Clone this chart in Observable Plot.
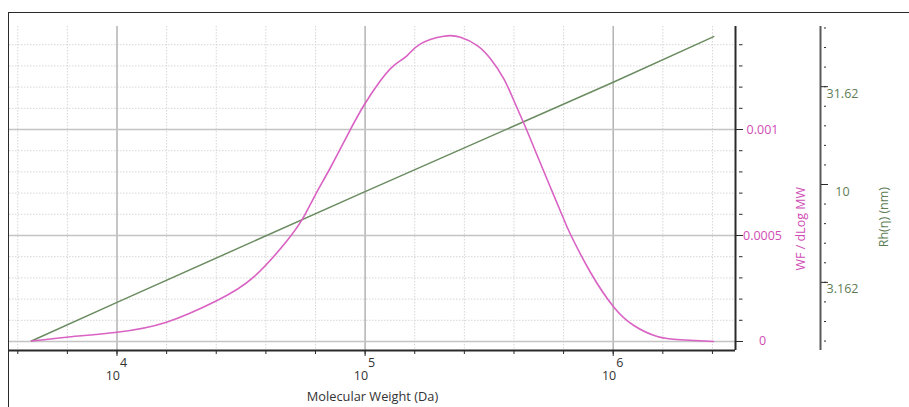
<!DOCTYPE html>
<html>
<head>
<meta charset="utf-8">
<script src="https://cdn.jsdelivr.net/npm/d3@7"></script>
<script src="https://cdn.jsdelivr.net/npm/@observablehq/plot@0.6"></script>
<style>
  html, body { margin: 0; padding: 0; background: #fff; }
  #wrap { position: relative; width: 909px; height: 407px; overflow: hidden; }
  #panel { position: absolute; left: 8px; top: 12px; right: 0; bottom: 0;
           border-top: 1.6px solid #2a2a2a; border-left: 1.6px solid #2a2a2a; pointer-events: none; }
  #wrap svg { position: absolute; left: 0; top: 0; }
</style>
</head>
<body>
<div id="wrap"><div id="panel"></div></div>
<script>
// Weight-fraction distribution (WF / dLog MW) against molecular weight (Da)
const mw = [4520, 6260, 10000, 15830, 25340, 35500, 48530, 56460, 63110, 72530, 84720,
            98810, 115400, 130500, 147800, 167200, 207600, 242400, 283100, 320200, 362300,
            397600, 443100, 493900, 558800, 630500, 672900, 810200, 1006000, 1211000, 1505000,
            1867000, 2537000];
const wf = [0.0000024, 0.0000203, 0.0000439, 0.000091, 0.0001934, 0.0003033, 0.0004764,
            0.0005863, 0.0006934, 0.0008208, 0.0009717, 0.0011132, 0.0012311, 0.0013019, 0.001349,
            0.0014042, 0.0014401, 0.0014354, 0.0013962, 0.0013335, 0.0012392, 0.0011368, 0.0010108,
            0.0008774, 0.0007264, 0.0005802, 0.0005047, 0.0003255, 0.0001618, 0.0000755, 0.0000236,
            0.000008, 0];

// Hydrodynamic radius Rh(η) in nm against molecular weight
const rhMW = [4520, 10000, 98900, 1000000, 2541000];
const rh   = [1.586, 2.50, 9.14, 33.3, 57.0];

// Axis ticks and labels
const decades   = [1e4, 1e5, 1e6];
const xStepExp  = [3.6, 3.8, 4.0, 4.2, 4.4, 4.6, 4.8, 5.0, 5.2, 5.4, 5.6, 5.8, 6.0, 6.2, 6.4];
const wfMajor   = [0, 0.0005, 0.001];
const wfMinor   = [0.0001, 0.0002, 0.0003, 0.0004, 0.0006, 0.0007, 0.0008, 0.0009,
                   0.0011, 0.0012, 0.0013, 0.0014];
const rhMajor   = [3.162, 10, 31.62];
const rhStepExp = [0.2, 0.3, 0.4, 0.5, 0.6, 0.7, 0.8, 0.9, 1.0, 1.1, 1.2, 1.3, 1.4, 1.5, 1.6, 1.7, 1.8];

const xDomain  = [3687, 3111000];
const yDomain  = [-0.0000425, 0.001486];
const rhDomain = [1.418, 64.2];

const pink = "#d962c3", pinkText = "#cf4db5";
const green = "#6b8c61", greenText = "#5e7d55";
const ink = "#2a2a2a";

// Rh shares the plot's vertical extent on its own log scale
const rhToY = d3.scaleLog().domain(rhDomain).range(yDomain);

const wfData = mw.map((m, i) => ({mw: m, wf: wf[i]}));
const rhData = rhMW.map((m, i) => ({mw: m, rh: rh[i]}));

const xSteps = xStepExp.map(e => 10 ** e);
const xMinor = xSteps.filter(v => !decades.some(d => Math.abs(d - v) / d < 1e-6));
const rhSteps = rhStepExp.map(e => rhToY(10 ** e));
const rhMajorY = rhMajor.map(d => rhToY(d));

const font = "'Segoe UI', 'Open Sans', sans-serif";

const chart = Plot.plot({
  width: 909,
  height: 407,
  marginTop: 26,
  marginBottom: 57,
  marginLeft: 9,
  marginRight: 174,
  style: {fontFamily: font, fontSize: "12.5px", background: "transparent", overflow: "visible"},
  x: {type: "log", domain: xDomain, label: null},
  y: {domain: yDomain, label: null},
  marks: [
    // grid
    Plot.ruleX(xMinor, {stroke: "#d6d6d6", strokeDasharray: "1.5,1.5"}),
    Plot.ruleY(wfMinor, {stroke: "#d6d6d6", strokeDasharray: "1.5,1.5"}),
    Plot.ruleX(decades, {stroke: "#b3b3b3", strokeWidth: 1.5}),
    Plot.ruleY(wfMajor, {stroke: "#c4c4c4", strokeWidth: 1.5}),

    // series
    Plot.line(rhData, {x: "mw", y: d => rhToY(d.rh), stroke: green, strokeWidth: 1.5}),
    Plot.line(wfData, {x: "mw", y: "wf", stroke: pink, strokeWidth: 1.6, curve: "natural"}),

    // axis lines
    Plot.ruleY([yDomain[0]], {stroke: ink, strokeWidth: 2}),
    Plot.ruleX([xDomain[1]], {stroke: ink, strokeWidth: 2}),
    Plot.ruleX([xDomain[1]], {stroke: "#5a5a5a", strokeWidth: 2, dx: 85}),

    // x ticks and labels
    Plot.axisX(xSteps, {tickSize: 4, fill: "none", stroke: ink, label: null}),
    Plot.axisX(decades, {tickSize: 6, fill: "none", stroke: ink, label: null}),
    Plot.text(decades, {x: d => d, text: () => "10", frameAnchor: "bottom", dy: 29, dx: 3,
                        textAnchor: "end", fill: "#333"}),
    Plot.text(decades, {x: d => d, text: d => String(Math.round(Math.log10(d))), frameAnchor: "bottom",
                        dy: 16, dx: 3, textAnchor: "start", fill: "#333"}),
    Plot.text(["Molecular Weight (Da)"], {text: d => d, frameAnchor: "bottom", dy: 50, fill: "#333",
                                          fontSize: 12.8}),

    // WF / dLog MW axis
    Plot.axisY(wfMinor, {anchor: "right", tickSize: 3.5, dx: 3, fill: "none", stroke: ink, label: null}),
    Plot.axisY(wfMajor, {anchor: "right", tickSize: 7, fill: "none", stroke: ink, label: null}),
    Plot.text(wfMajor, {y: d => d, text: d => String(d), frameAnchor: "right", dx: 27,
                        textAnchor: "middle", fill: pinkText}),
    Plot.text(["WF / dLog MW"], {text: d => d, frameAnchor: "right", dx: 65, dy: -1.5, rotate: -90,
                                 fill: pinkText}),

    // Rh(η) axis
    Plot.axisY(rhSteps, {anchor: "right", tickSize: 2, dx: 88, fill: "none", stroke: ink, label: null}),
    Plot.axisY(rhMajorY, {anchor: "right", tickSize: 7, dx: 85, fill: "none", stroke: ink, label: null}),
    Plot.text(rhMajor, {y: d => rhToY(d), text: d => String(d), frameAnchor: "right", dx: 107, dy: 7,
                        textAnchor: "middle", fill: greenText}),
    Plot.text(["Rh(η) (nm)"], {text: d => d, frameAnchor: "right", dx: 148, dy: -1.5, rotate: -90,
                               fill: greenText})
  ]
});

document.getElementById("wrap").prepend(chart);
</script>
</body>
</html>
